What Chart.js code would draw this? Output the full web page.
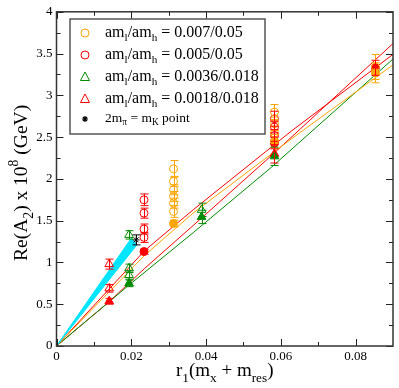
<!DOCTYPE html>
<html>
<head>
<meta charset="utf-8">
<script src="https://cdn.jsdelivr.net/npm/chart.js@4.4.0/dist/chart.umd.min.js"></script>
<style>
  body { margin: 0; background: #fff; }
  #wrap { width: 399px; height: 388px; }
</style>
</head>
<body>
<div id="wrap"><canvas id="chart" width="399" height="388"></canvas></div>
<script>
// tick labels
const xTickValues = [0, 0.02, 0.04, 0.06, 0.08];
const xMinorTicks = [0.01, 0.03, 0.05, 0.07];
const yTickValues = [0, 0.5, 1, 1.5, 2, 2.5, 3, 3.5, 4];
const yMinorTicks = [0.25, 0.75, 1.25, 1.75, 2.25, 2.75, 3.25, 3.75];

// am_l/am_h = 0.007/0.05 (orange circles)
const orangeOpenX = [0.0313, 0.0313, 0.0313, 0.0313, 0.0313, 0.0313, 0.0583, 0.0583, 0.0583, 0.0853];
const orangeOpenY = [2.12, 1.97, 1.87, 1.79, 1.71, 1.61, 2.80, 2.66, 2.55, 3.34];
const orangeOpenErr = [0.10, 0.06, 0.06, 0.06, 0.06, 0.07, 0.09, 0.08, 0.08, 0.15];
const orangeFullX = [0.0313, 0.0583, 0.0853];
const orangeFullY = [1.467, 2.45, 3.27];
const orangeFullErr = [0.04, 0.08, 0.12];

// am_l/am_h = 0.005/0.05 (red circles)
const redOpenX = [0.0234, 0.0234, 0.0234, 0.0234, 0.0583, 0.0583, 0.0583];
const redOpenY = [1.75, 1.59, 1.40, 1.30, 2.72, 2.62, 2.52];
const redOpenErr = [0.07, 0.06, 0.06, 0.06, 0.09, 0.07, 0.07];
const redFullX = [0.0234, 0.0583, 0.0853];
const redFullY = [1.13, 2.43, 3.33];
const redFullErr = [0.03, 0.07, 0.09];

// am_l/am_h = 0.0036/0.018 (green triangles)
const greenOpenX = [0.0194, 0.0194, 0.0194, 0.0388];
const greenOpenY = [1.33, 0.93, 0.85, 1.63];
const greenOpenErr = [0.05, 0.05, 0.05, 0.08];
const greenFullX = [0.0194, 0.0388, 0.0583];
const greenFullY = [0.75, 1.545, 2.27];
const greenFullErr = [0.04, 0.08, 0.11];

// am_l/am_h = 0.0018/0.018 (red triangles)
const redTriOpenX = [0.0141, 0.0141];
const redTriOpenY = [0.98, 0.69];
const redTriOpenErr = [0.06, 0.045];
const redTriFullX = [0.0141, 0.0583];
const redTriFullY = [0.536, 2.30];
const redTriFullErr = [0.035, 0.11];

// 2m_pi = m_K point
const starX = [0.0213];
const starY = [1.27];
const starErr = [0.06];

// fit curves
const fitOrangeX = [0, 0.0236, 0.0366, 0.063, 0.09];
const fitOrangeY = [0, 1.087, 1.593, 2.485, 3.365];
const fitRedX = [0, 0.0236, 0.0366, 0.063, 0.09];
const fitRedY = [0, 1.143, 1.632, 2.579, 3.49];
const fitGreenX = [0, 0.0194, 0.0366, 0.0575, 0.09];
const fitGreenY = [0, 0.73, 1.358, 2.14, 3.435];
const fitRedTriX = [0, 0.0141, 0.0236, 0.0366, 0.0575, 0.09];
const fitRedTriY = [0, 0.53, 0.93, 1.444, 2.28, 3.62];

// cyan band outline
const bandX = [0, 0.0200, 0.0215, 0];
const bandY = [0, 1.29, 1.21, 0];

const ORANGE = "#ffa500";
const RED = "#ff0000";
const GREEN = "#008b00";
const SERIF = "'Liberation Serif', 'DejaVu Serif', serif";

const pts = (xs, ys) => xs.map((x, i) => ({ x: x, y: ys[i] }));

function markers(xs, ys, err, color, style, filled, radius) {
  return {
    data: pts(xs, ys),
    err: err,
    errColor: color,
    showLine: false,
    pointStyle: style,
    pointRadius: radius,
    pointBorderWidth: 1,
    borderColor: color,
    backgroundColor: filled ? color : "rgba(0,0,0,0)",
    order: 0,
  };
}

function fitLine(xs, ys, color) {
  return {
    data: pts(xs, ys),
    showLine: true,
    borderColor: color,
    borderWidth: 1,
    pointRadius: 0,
    fill: false,
    order: 2,
  };
}

// draws text pieces with sub/superscripts, returns width
function richText(ctx, parts, x, y, base, draw) {
  let cx = x;
  parts.forEach((p) => {
    const size = p.s ? base * 0.7 : base;
    ctx.font = size + "px " + SERIF;
    const dy = p.s === "sub" ? base * 0.32 : p.s === "sup" ? -base * 0.45 : 0;
    if (draw) ctx.fillText(p.t, cx, y + dy);
    cx += ctx.measureText(p.t).width;
  });
  return cx - x;
}

const errorBars = {
  id: "errorBars",
  afterDatasetsDraw(chart) {
    const ctx = chart.ctx;
    const xs = chart.scales.x, ys = chart.scales.y;
    chart.data.datasets.forEach((ds) => {
      if (!ds.err) return;
      ctx.save();
      ctx.strokeStyle = ds.errColor;
      ctx.lineWidth = 1;
      ds.data.forEach((p, i) => {
        const px = Math.round(xs.getPixelForValue(p.x)) + 0.5;
        const top = ys.getPixelForValue(p.y + ds.err[i]);
        const bot = ys.getPixelForValue(p.y - ds.err[i]);
        ctx.beginPath();
        ctx.moveTo(px, top); ctx.lineTo(px, bot);
        ctx.moveTo(px - 4, top); ctx.lineTo(px + 4, top);
        ctx.moveTo(px - 4, bot); ctx.lineTo(px + 4, bot);
        ctx.stroke();
      });
      ctx.restore();
    });
  },
};

const frameAndText = {
  id: "frameAndText",
  afterDraw(chart) {
    const ctx = chart.ctx;
    const a = chart.chartArea;
    const xs = chart.scales.x, ys = chart.scales.y;
    ctx.save();
    // ticks on all four sides, pointing inward
    ctx.strokeStyle = "#222";
    ctx.lineWidth = 1;
    ctx.beginPath();
    const xt = (v, len) => {
      const px = Math.round(xs.getPixelForValue(v)) + 0.5;
      ctx.moveTo(px, a.bottom); ctx.lineTo(px, a.bottom - len);
      ctx.moveTo(px, a.top); ctx.lineTo(px, a.top + len);
    };
    const yt = (v, len) => {
      const py = Math.round(ys.getPixelForValue(v)) + 0.5;
      ctx.moveTo(a.left, py); ctx.lineTo(a.left + len, py);
      ctx.moveTo(a.right, py); ctx.lineTo(a.right - len, py);
    };
    xTickValues.forEach((v) => xt(v, 7));
    xMinorTicks.forEach((v) => xt(v, 4));
    yTickValues.forEach((v) => yt(v, 7));
    yMinorTicks.forEach((v) => yt(v, 4));
    ctx.stroke();
    ctx.strokeStyle = "#333";
    ctx.lineWidth = 1.5;
    ctx.strokeRect(a.left, a.top, a.right - a.left, a.bottom - a.top);

    // legend box
    ctx.fillStyle = "#fff";
    ctx.fillRect(70, 19, 195, 115);
    ctx.strokeStyle = "#555";
    ctx.lineWidth = 1.5;
    ctx.strokeRect(70, 19, 195, 115);
    const legend = [
      { c: ORANGE, m: "circle", v: "0.007/0.05" },
      { c: RED, m: "circle", v: "0.005/0.05" },
      { c: GREEN, m: "triangle", v: "0.0036/0.018" },
      { c: RED, m: "triangle", v: "0.0018/0.018" },
    ];
    const rows = [33, 55, 77, 99];
    ctx.textBaseline = "middle";
    ctx.textAlign = "left";
    legend.forEach((e, i) => {
      const y = rows[i];
      ctx.strokeStyle = e.c;
      ctx.lineWidth = 1;
      ctx.beginPath();
      if (e.m === "circle") {
        ctx.arc(85, y, 4, 0, Math.PI * 2);
      } else {
        ctx.moveTo(85, y - 5); ctx.lineTo(89.5, y + 3.5); ctx.lineTo(80.5, y + 3.5); ctx.closePath();
      }
      ctx.stroke();
      ctx.fillStyle = "#000";
      richText(ctx, [
        { t: "am" }, { t: "l", s: "sub" }, { t: "/am" }, { t: "h", s: "sub" }, { t: " = " + e.v },
      ], 105, y, 16, true);
    });
    // star entry
    ctx.fillStyle = "#000";
    ctx.strokeStyle = "#000";
    ctx.lineWidth = 1.2;
    ctx.beginPath();
    for (let k = 0; k < 4; k++) {
      const ang = (k * Math.PI) / 4;
      ctx.moveTo(85 - 3 * Math.cos(ang), 119 - 3 * Math.sin(ang));
      ctx.lineTo(85 + 3 * Math.cos(ang), 119 + 3 * Math.sin(ang));
    }
    ctx.stroke();
    richText(ctx, [
      { t: "2m" }, { t: "π", s: "sub" }, { t: " = m" }, { t: "K", s: "sub" }, { t: " point" },
    ], 105, 118, 13.5, true);

    // axis titles
    ctx.fillStyle = "#000";
    ctx.textBaseline = "alphabetic";
    const xParts = [
      { t: "r" }, { t: "1", s: "sub" }, { t: "(m" }, { t: "x", s: "sub" }, { t: " + m" }, { t: "res", s: "sub" }, { t: ")" },
    ];
    const xw = richText(ctx, xParts, 0, 0, 19, false);
    richText(ctx, xParts, (a.left + a.right) / 2 - xw / 2, 376, 19, true);

    const yParts = [
      { t: "Re(A" }, { t: "2", s: "sub" }, { t: ") x 10" }, { t: "8", s: "sup" }, { t: " (GeV)" },
    ];
    const yw = richText(ctx, yParts, 0, 0, 19.5, false);
    ctx.translate(27, (a.top + a.bottom) / 2 + 4);
    ctx.rotate(-Math.PI / 2);
    richText(ctx, yParts, -yw / 2, 0, 19.5, true);
    ctx.restore();
  },
};

const ctx = document.getElementById("chart").getContext("2d");
const chart = new Chart(ctx, {
  type: "scatter",
  data: {
    datasets: [
      {
        data: pts(bandX, bandY),
        showLine: true,
        borderColor: "#00e5ff",
        borderWidth: 1,
        backgroundColor: "#00e5ff",
        pointRadius: 0,
        fill: "shape",
        order: 1,
      },
      fitLine(fitOrangeX, fitOrangeY, ORANGE),
      fitLine(fitRedX, fitRedY, RED),
      fitLine(fitGreenX, fitGreenY, GREEN),
      fitLine(fitRedTriX, fitRedTriY, RED),
      markers(orangeOpenX, orangeOpenY, orangeOpenErr, ORANGE, "circle", false, 4),
      markers(orangeFullX, orangeFullY, orangeFullErr, ORANGE, "circle", true, 4),
      markers(redOpenX, redOpenY, redOpenErr, RED, "circle", false, 4),
      markers(redFullX, redFullY, redFullErr, RED, "circle", true, 4),
      markers(greenOpenX, greenOpenY, greenOpenErr, GREEN, "triangle", false, 5),
      markers(greenFullX, greenFullY, greenFullErr, GREEN, "triangle", true, 5),
      markers(redTriOpenX, redTriOpenY, redTriOpenErr, RED, "triangle", false, 5),
      markers(redTriFullX, redTriFullY, redTriFullErr, RED, "triangle", true, 5),
      markers(starX, starY, starErr, "#000", "star", false, 3.5),
    ],
  },
  options: {
    responsive: false,
    animation: false,
    layout: { padding: { top: 5, right: 2, left: 0, bottom: 0 } },
    plugins: { legend: { display: false }, tooltip: { enabled: false } },
    scales: {
      x: {
        type: "linear",
        min: 0,
        max: 0.09,
        afterBuildTicks: (s) => { s.ticks = xTickValues.map((v) => ({ value: v })); },
        afterFit: (s) => { s.height = 42; },
        ticks: {
          callback: (v) => String(v),
          font: { family: SERIF, size: 13 },
          color: "#000",
          padding: 3,
          maxRotation: 0,
        },
        grid: { display: false, drawTicks: false },
        border: { display: false },
      },
      y: {
        type: "linear",
        min: 0,
        max: 4,
        afterBuildTicks: (s) => { s.ticks = yTickValues.map((v) => ({ value: v })); },
        afterFit: (s) => { s.width = 56.5; },
        ticks: {
          callback: (v) => String(v),
          font: { family: SERIF, size: 13 },
          color: "#000",
          padding: 4,
        },
        grid: { display: false, drawTicks: false },
        border: { display: false },
      },
    },
  },
  plugins: [errorBars, frameAndText],
});
</script>
</body>
</html>
